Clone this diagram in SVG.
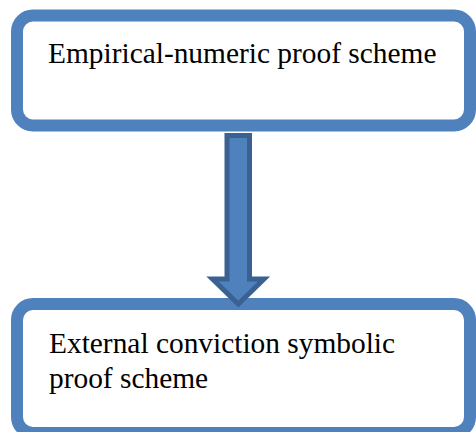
<svg xmlns="http://www.w3.org/2000/svg" width="476" height="432" viewBox="0 0 476 432">
  <style>
    .box { fill: #ffffff; stroke: #4f81bd; stroke-width: 12; }
    .label { font-family: "Liberation Serif", "Times New Roman", serif; font-size: 29.4px; fill: #000000; }
    .arrow { fill: #4f81bd; stroke: #3b6192; stroke-width: 5; stroke-linejoin: miter; }
  </style>
  <rect width="476" height="432" fill="#ffffff"/>
  <g id="node-empirical">
    <rect class="box" x="17" y="15.5" width="453" height="110" rx="16" ry="16"/>
    <text class="label" x="48" y="63">Empirical-numeric proof scheme</text>
  </g>
  <g id="node-external">
    <rect class="box" x="17" y="304" width="453" height="129" rx="16" ry="16"/>
    <text class="label" x="49" y="353">External conviction symbolic</text>
    <text class="label" x="49" y="388">proof scheme</text>
  </g>
  <g id="connectors">
    <path class="arrow" d="M227 135.5 H249.5 V279 H264 L238.3 304 L212.5 279 H227 Z"/>
  </g>
</svg>
